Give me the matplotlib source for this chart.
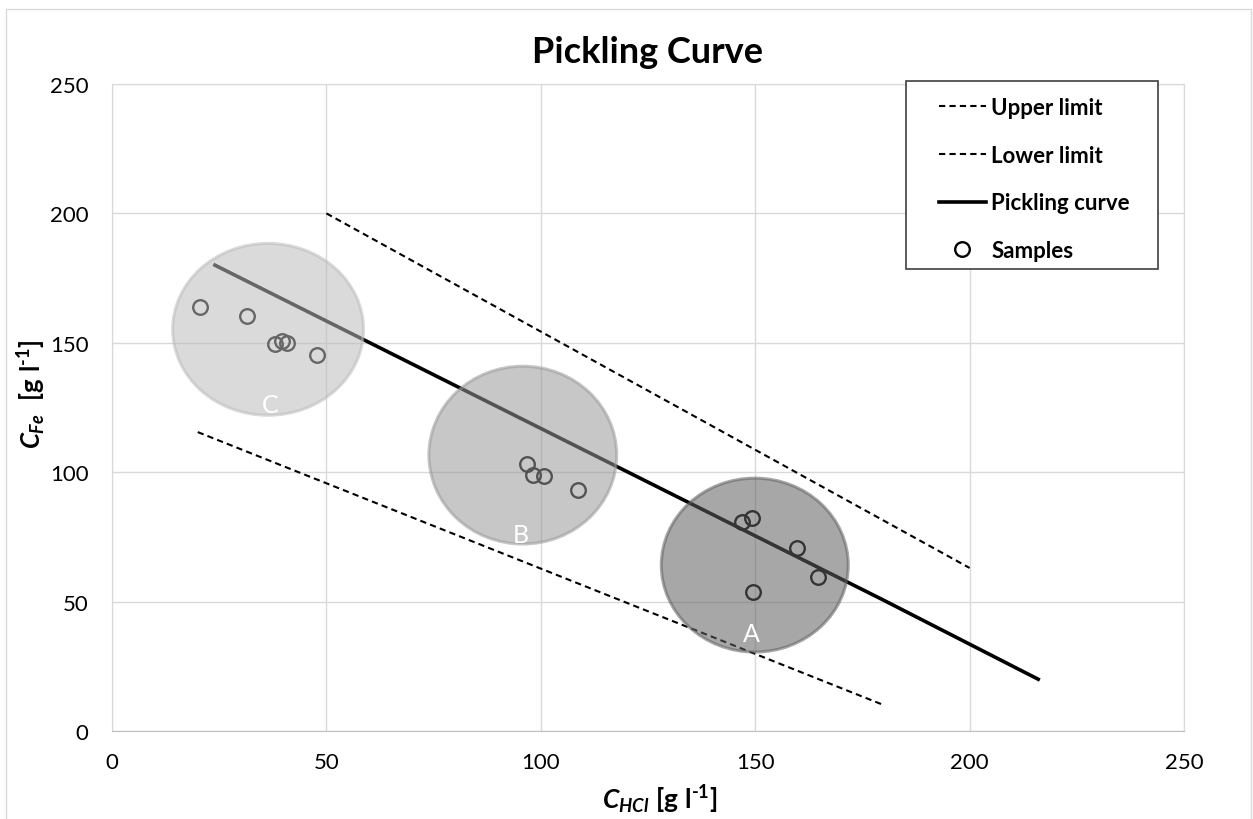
import matplotlib.pyplot as plt
from matplotlib.patches import Ellipse, Rectangle

plt.rcParams['font.family'] = ['Lato', 'DejaVu Sans']
plt.rcParams['mathtext.fontset'] = 'custom'
plt.rcParams['mathtext.rm'] = 'Lato:bold'
plt.rcParams['mathtext.it'] = 'Lato:bold:italic'
plt.rcParams['mathtext.bf'] = 'Lato:bold'

# limit lines and the pickling curve
upper_x = [50, 200]
upper_y = [200, 63]
lower_x = [20, 180]
lower_y = [115.5, 10]
curve_x = [24, 180, 216]
curve_y = [180, 50.5, 20]

# measured samples
samples_x = [20.5, 31.5, 38.0, 39.6, 40.8, 47.8,
             96.7, 98.1, 100.7, 108.6,
             146.9, 149.2, 159.7, 164.6, 149.4]
samples_y = [163.7, 160.2, 149.4, 150.6, 149.8, 145.2,
             103.1, 98.8, 98.5, 93.1,
             80.7, 82.2, 70.7, 59.5, 53.7]

# sample groups: name, centre, width, height, colour
groups = ['A', 'B', 'C']
group_cx = [149.9, 95.8, 36.4]
group_cy = [64.1, 106.6, 155.2]
group_w = [43.6, 43.8, 44.5]
group_h = [67.2, 68.7, 66.4]
group_fill = ['#606060', '#999999', '#bcbcbc']
group_label_x = [149.2, 95.3, 36.8]
group_label_y = [37.5, 76.1, 126.3]

W, H = 1253, 820
fig = plt.figure(figsize=(W/100, H/100), dpi=100)
ax = fig.add_axes([112/W, 1-732/H, (1184-112)/W, (732-85)/H])

ax.plot(upper_x, upper_y, color='black', lw=1.5, ls=(0, (3, 2)), label='Upper limit', zorder=3)
ax.plot(lower_x, lower_y, color='black', lw=1.5, ls=(0, (3, 2)), label='Lower limit', zorder=3)
ax.plot(curve_x, curve_y, color='black', lw=2.6, label='Pickling curve', zorder=3)
ax.plot(samples_x, samples_y, ls='none', marker='o', ms=10.5, mfc='none', mec='black',
        mew=1.7, label='Samples', zorder=3)

for g, cx, cy, w, h, c, lx, ly in zip(groups, group_cx, group_cy, group_w, group_h,
                                      group_fill, group_label_x, group_label_y):
    e = Ellipse((cx, cy), w, h, facecolor=c, edgecolor=c, lw=2.2, alpha=0.55, zorder=4)
    ax.add_patch(e)
    ax.text(lx, ly, g, color='white', fontsize=18, ha='center', va='center', zorder=5)

ax.set_xlim(0, 250)
ax.set_ylim(0, 250)
ax.set_xticks(range(0, 251, 50))
ax.set_yticks(range(0, 251, 50))
ax.grid(color='#d9d9d9', lw=1)
ax.set_axisbelow(True)
ax.tick_params(length=0, labelsize=16)
ax.tick_params(axis='y', pad=17)
ax.tick_params(axis='x', pad=15)
for s in ax.spines.values():
    s.set_color('#d9d9d9')
ax.spines['bottom'].set_color('#bfbfbf')

ax.set_title('Pickling Curve', fontsize=26, fontweight='bold', pad=16)
fig.text(660/W, 1-800/H, r'$\mathit{C_{HCl}}\ \mathrm{[g\ l^{\text{-}1}]}$',
         fontsize=19, ha='center', va='center')
fig.text(32/W, 1-394/H, r'$\mathit{C_{Fe}}\ \ \mathrm{[g\ l^{\text{-}1}]}$',
         fontsize=18.5, ha='center', va='center', rotation=90)

# legend box drawn separately so its padding can be set per side
box = Rectangle((906/W, 1-270/H), (1158-906)/W, (270-82)/H, transform=fig.transFigure,
                facecolor='white', edgecolor='#404040', lw=1.2, clip_on=False, zorder=9)
ax.add_patch(box)
leg = ax.legend(loc='upper left', bbox_to_anchor=(939/W, 1-98/H),
                bbox_transform=fig.transFigure, frameon=False,
                prop={'weight': 'bold', 'size': 16},
                labelspacing=1.2, handlelength=2.1, handletextpad=0.25,
                borderpad=0, borderaxespad=0)
leg.set_zorder(10)

fig.add_artist(Rectangle((6/W, -0.01), (1251-6)/W, 1.01-10/H,
                         transform=fig.transFigure, fill=False,
                         edgecolor='#d9d9d9', lw=1))

fig.savefig('out.png', dpi=100)
